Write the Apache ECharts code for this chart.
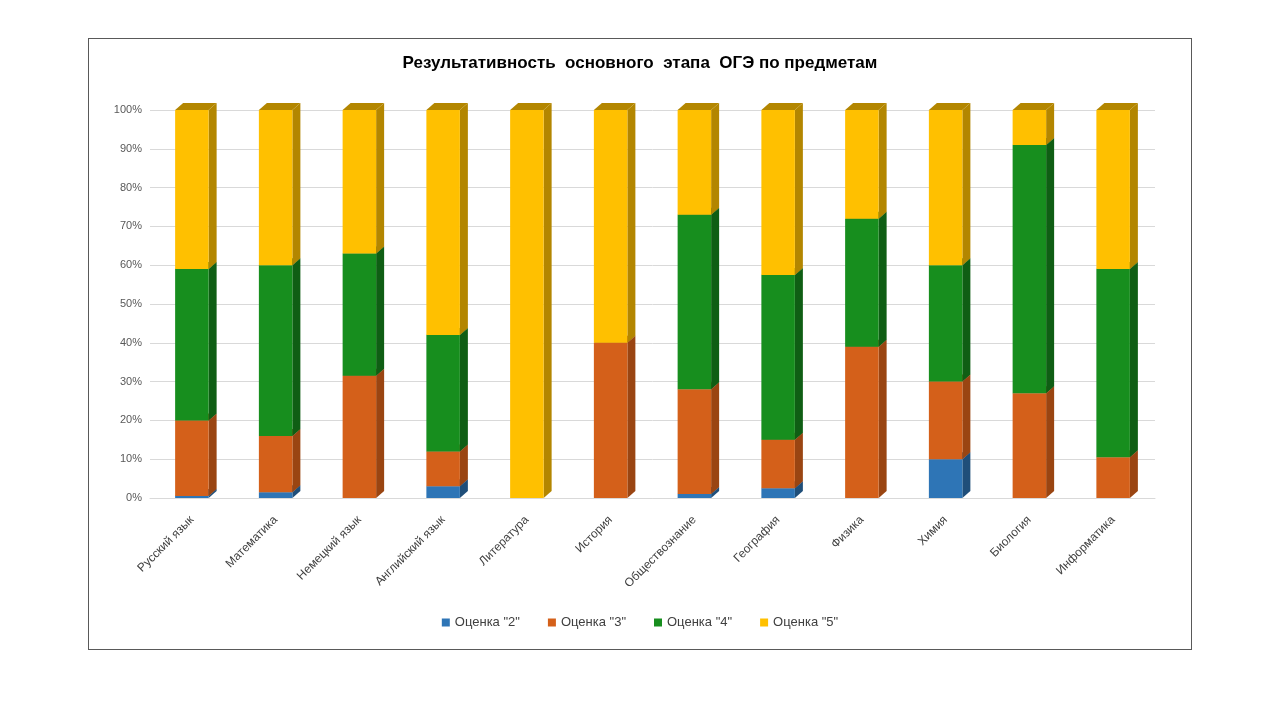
<!DOCTYPE html>
<html><head><meta charset="utf-8">
<script src="https://cdn.jsdelivr.net/npm/echarts@6/dist/echarts.min.js"></script>
<style>body{margin:0;background:#fff}#c{width:1280px;height:720px}
#frame{position:absolute;left:88px;top:38px;width:1102px;height:610px;border:1px solid #595959;pointer-events:none}</style>
</head><body><div id="c"></div><div id="frame"></div>
<script>
const subjects = ["Русский язык","Математика","Немецкий язык","Английский язык","Литература","История","Обществознание","География","Физика","Химия","Биология","Информатика"];
const grade2 = [0.5, 1.5, 0, 3, 0, 0, 1, 2.5, 0, 10, 0, 0];
const grade3 = [19.5, 14.5, 31.5, 9, 0, 40, 27, 12.5, 39, 20, 27, 10.5];
const grade4 = [39, 44, 31.5, 30, 0, 0, 45, 42.5, 33, 30, 64, 48.5];
const grade5 = [41, 40, 37, 58, 100, 60, 27, 42.5, 28, 40, 9, 41];
const names = ['Оценка "2"','Оценка "3"','Оценка "4"','Оценка "5"'];
const colors = ["#2e75b6","#d4601a","#178e1e","#ffc000"];
const sides = ["#1f4e79","#9a4512","#0f5e14","#b38600"];

const all = [grade2, grade3, grade4, grade5];
const base = subjects.map(() => 0);
const series = all.map(function (vals, s) {
  const data = vals.map(function (v, i) {
    const d = [i, base[i], base[i] + v];
    base[i] += v;
    return d;
  });
  return {
    name: names[s], type: "custom", itemStyle: { color: colors[s] },
    renderItem: function (params, api) {
      const i = api.value(0), a = api.value(1), b = api.value(2);
      if (b - a <= 0) return null;
      const p0 = api.coord([i, a]), p1 = api.coord([i, b]);
      const w = api.size([1, 0])[0] * 0.4, dx = 8, dy = 7;
      const x0 = p0[0] - w / 2, x1 = p0[0] + w / 2;
      return { type: "group", children: [
        { type: "polygon", shape: { points: [[x1, p0[1]], [x1 + dx, p0[1] - dy], [x1 + dx, p1[1] - dy], [x1, p1[1]]] }, style: { fill: sides[s] } },
        { type: "polygon", shape: { points: [[x0, p1[1]], [x0 + dx, p1[1] - dy], [x1 + dx, p1[1] - dy], [x1, p1[1]]] }, style: { fill: sides[s] } },
        { type: "rect", shape: { x: x0, y: p1[1], width: w, height: p0[1] - p1[1] }, style: { fill: colors[s] } }
      ] };
    },
    data: data
  };
});

const chart = echarts.init(document.getElementById("c"));
chart.setOption({
  animation: false,
  title: { text: "Результативность  основного  этапа  ОГЭ по предметам", left: "center", top: 50,
    textStyle: { fontFamily: "Liberation Sans", fontSize: 17, fontWeight: "bold", color: "#000" } },
  legend: { bottom: 86, itemWidth: 8, itemHeight: 8, itemGap: 28, icon: "rect",
    textStyle: { fontFamily: "Liberation Sans", fontSize: 13, color: "#404040" }, data: names },
  grid: { left: 150, right: 125, top: 110, bottom: 222 },
  xAxis: { type: "category", data: subjects, axisTick: { show: false },
    axisLine: { lineStyle: { color: "#d9d9d9" } },
    axisLabel: { rotate: 45, interval: 0, fontFamily: "Liberation Sans", fontSize: 12, color: "#404040", margin: 20 } },
  yAxis: { type: "value", min: 0, max: 100, interval: 10,
    axisLabel: { formatter: "{value}%", fontFamily: "Liberation Sans", fontSize: 11, color: "#595959" },
    splitLine: { lineStyle: { color: "#d9d9d9" } } },
  series: series
});
</script></body></html>
